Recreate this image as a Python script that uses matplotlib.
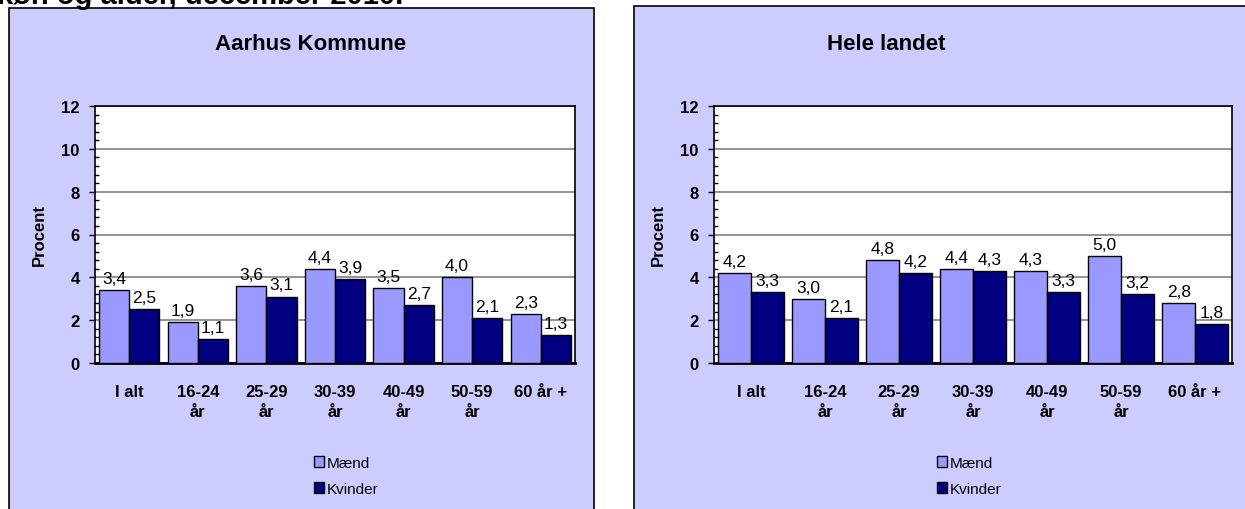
import matplotlib.pyplot as plt
from matplotlib.patches import Rectangle, Patch
import numpy as np

plt.rcParams['font.family'] = ['Liberation Sans', 'DejaVu Sans']

# Data
kategorier = ['I alt', '16-24\når', '25-29\når', '30-39\når', '40-49\når', '50-59\når', '60 år +']
aarhus_maend = [3.4, 1.9, 3.6, 4.4, 3.5, 4.0, 2.3]
aarhus_kvinder = [2.5, 1.1, 3.1, 3.9, 2.7, 2.1, 1.3]
landet_maend = [4.2, 3.0, 4.8, 4.4, 4.3, 5.0, 2.8]
landet_kvinder = [3.3, 2.1, 4.2, 4.3, 3.3, 3.2, 1.8]

C_MAEND = '#9999FF'
C_KVINDER = '#000080'
C_PANEL = '#CCCCFF'

W, H = 1245, 510
fig = plt.figure(figsize=(W / 100, H / 100), dpi=100)
fig.patch.set_facecolor('white')


def px(x0, y0, x1, y1):
    """pixel box (top-left origin) -> figure fraction rect"""
    return [x0 / W, 1 - y1 / H, (x1 - x0) / W, (y1 - y0) / H]


def fmt(v):
    return f"{v:.1f}".replace('.', ',')


def panel(box, plotbox, title, title_x, maend, kvinder, legend_x):
    l, b, w, h = px(*box)
    fig.patches.append(Rectangle((l, b), w, h, transform=fig.transFigure,
                                 facecolor=C_PANEL, edgecolor='black', lw=1.2, zorder=-5))
    fig.text(title_x / W, 1 - 45 / H, title, ha='center', va='center',
             fontsize=16, fontweight='bold')

    ax = fig.add_axes(px(*plotbox))
    ax.set_facecolor('white')
    x = np.arange(len(kategorier))
    bw = 0.44
    b1 = ax.bar(x - bw / 2, maend, bw, color=C_MAEND, edgecolor='black', lw=1, zorder=3)
    b2 = ax.bar(x + bw / 2, kvinder, bw, color=C_KVINDER, edgecolor='black', lw=1, zorder=3)
    ax.bar_label(b1, labels=[fmt(v) for v in maend], padding=3, fontsize=12.5)
    ax.bar_label(b2, labels=[fmt(v) for v in kvinder], padding=3, fontsize=12.5)

    ax.set_xlim(-0.5, len(kategorier) - 0.5)
    ax.set_ylim(0, 12)
    ax.set_yticks(range(0, 13, 2))
    ax.set_yticks(np.arange(0, 12.01, 0.4), minor=True)
    ax.yaxis.grid(True, color='#808080', lw=1.2, zorder=0)
    ax.set_axisbelow(True)
    ax.tick_params(axis='y', which='major', length=4, width=1, direction='out',
                   labelsize=12, pad=7)
    ax.tick_params(axis='y', which='minor', length=3, width=1, direction='in')
    for t in ax.get_yticklabels():
        t.set_fontweight('bold')
    ax.set_xticks(x)
    ax.set_xticklabels(kategorier, fontsize=12, fontweight='bold', linespacing=1.45)
    ax.tick_params(axis='x', length=0, pad=15)
    ax.set_ylabel('Procent', fontsize=12, fontweight='bold', labelpad=10)
    for s in ax.spines.values():
        s.set_color('black')
        s.set_linewidth(1.2)
    ax.spines['bottom'].set_linewidth(2)

    handles = [Patch(facecolor=C_MAEND, edgecolor='black', lw=1, label='Mænd'),
               Patch(facecolor=C_KVINDER, edgecolor='black', lw=1, label='Kvinder')]
    fig.legend(handles=handles, loc='upper left',
               bbox_to_anchor=(legend_x / W, 1 - 449 / H), frameon=False,
               fontsize=11, handlelength=0.7, handleheight=0.7,
               handletextpad=0.15, labelspacing=0.8, borderpad=0)
    return ax


panel((9, 9, 594, 530), (95, 107, 575, 364), 'Aarhus Kommune', 311,
      aarhus_maend, aarhus_kvinder, 306)
panel((634, 7, 1260, 530), (714, 107, 1232, 364), 'Hele landet', 886,
      landet_maend, landet_kvinder, 929)

# overskrift, afskaaret i toppen
fig.text(-3 / W, 1 - 4 / H, 'køn og alder, december 2010.', ha='left', va='baseline',
         fontsize=21, fontweight='bold')

fig.savefig('out.png', dpi=100)
